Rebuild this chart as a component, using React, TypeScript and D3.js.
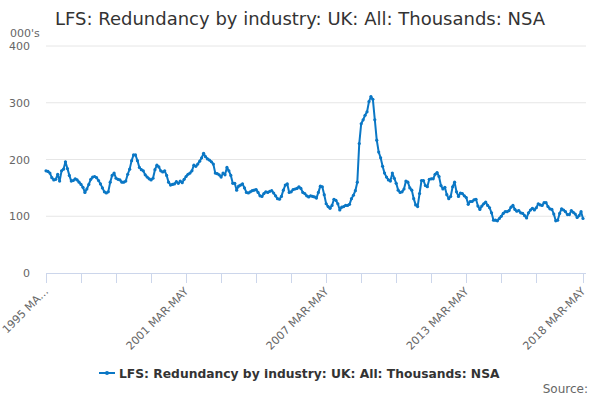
import * as d3 from "d3";

const startYear = 1995;
const periods = [
  "MAR-MAY", "APR-JUN", "MAY-JUL", "JUN-AUG", "JUL-SEP", "AUG-OCT",
  "SEP-NOV", "OCT-DEC", "NOV-JAN", "DEC-FEB", "JAN-MAR", "FEB-APR",
];

// thousands, rolling quarters 1995 MAR-MAY .. 2018 MAR-MAY
const redundancies = [
  180, 179, 176, 168, 164, 165, 174, 162, 180, 183,
  196, 184, 172, 162, 163, 166, 164, 160, 156, 151,
  142, 148, 156, 165, 169, 170, 168, 163, 157, 150,
  143, 141, 143, 160, 172, 176, 167, 165, 164, 160,
  160, 162, 174, 183, 198, 208, 208, 198, 186, 182,
  180, 173, 169, 166, 164, 167, 182, 190, 187, 180,
  178, 180, 172, 160, 155, 156, 157, 161, 158, 162,
  159, 165, 170, 174, 176, 180, 190, 188, 192, 197,
  203, 211, 205, 201, 199, 196, 192, 176, 175, 173,
  169, 176, 173, 186, 180, 172, 158, 158, 146, 153,
  155, 157, 150, 142, 141, 143, 145, 146, 147, 142,
  136, 135, 140, 143, 142, 144, 145, 141, 136, 131,
  130, 135, 146, 155, 157, 142, 143, 147, 148, 149,
  152, 149, 142, 140, 136, 134, 136, 135, 134, 132,
  142, 153, 152, 138, 122, 117, 114, 119, 130, 128,
  122, 111, 116, 117, 119, 119, 121, 131, 137, 145,
  160, 228, 263, 270, 278, 284, 302, 311, 306, 270,
  234, 213, 203, 188, 176, 169, 164, 162, 176, 167,
  158, 146, 142, 143, 148, 162, 160, 150, 146, 131,
  120, 117, 140, 163, 163, 154, 152, 165, 166, 166,
  174, 177, 170, 154, 148, 151, 138, 131, 135, 152,
  160, 143, 135, 141, 140, 136, 133, 121, 126, 126,
  129, 130, 118, 112, 118, 122, 125, 119, 115, 106,
  93, 93, 92, 96, 100, 105, 108, 108, 110, 116,
  119, 112, 109, 110, 106, 105, 101, 97, 106, 111,
  114, 111, 115, 122, 120, 119, 124, 124, 117, 113,
  112, 104, 92, 93, 105, 113, 111, 108, 103, 103,
  110, 107, 104, 98, 101, 108, 96,
];

const yTicks = [0, 100, 200, 300, 400];
const labelledTicks = [0, 72, 144, 216, 276];

const categories = redundancies.map((_, i) => {
  const p = periods[i % 12];
  const yr = startYear + Math.floor((i + 2) / 12);
  return `${yr} ${p}`;
});

const title = "LFS: Redundancy by industry: UK: All: Thousands: NSA";
const font = "'DejaVu Sans', sans-serif";
const blue = "#0a77c5";

export default function App() {
  const width = 600;
  const height = 400;
  const margin = { top: 46, right: 17, bottom: 127, left: 46 };

  const x = d3
    .scalePoint<string>()
    .domain(categories)
    .range([margin.left, width - margin.right]);
  const y = d3
    .scaleLinear()
    .domain([0, 400])
    .range([height - margin.bottom, margin.top]);

  const line = d3
    .line<number>()
    .x((_, i) => x(categories[i])!)
    .y((d) => y(d));

  const tickIdx = d3.range(0, categories.length - 18, 18).concat([categories.length - 1]);
  const baseY = y(0);

  return (
    <div style={{ position: "absolute", left: 0, top: 0 }}>
      <svg width={width} height={height} style={{ fontFamily: font, display: "block" }}>
        <rect width={width} height={height} fill="#fff" />
        <text x={300} y={25} textAnchor="middle" fontSize={18} fill="#333">
          {title}
        </text>
        <text x={10} y={37} fontSize={11} fill="#666">
          000's
        </text>

        {yTicks.map((t) => (
          <g key={t}>
            {t > 0 && (
              <line x1={margin.left} x2={586} y1={y(t)} y2={y(t)} stroke="#e6e6e6" />
            )}
            <text x={30} y={y(t) + 4} textAnchor="end" fontSize={11} fill="#666">
              {t}
            </text>
          </g>
        ))}

        <line x1={margin.left} x2={586} y1={baseY + 0.5} y2={baseY + 0.5} stroke="#ccd6eb" />
        {tickIdx.map((i) => (
          <line
            key={i}
            x1={Math.round(x(categories[i])!) + 0.5}
            x2={Math.round(x(categories[i])!) + 0.5}
            y1={baseY}
            y2={baseY + 10}
            stroke="#ccd6eb"
          />
        ))}
        {labelledTicks.map((i) => {
          const lx = x(categories[i])! + 3;
          const ly = baseY + 19;
          const label = i === 0 ? "1995 MA…" : categories[i];
          return (
            <text
              key={i}
              transform={`translate(${lx},${ly}) rotate(-45)`}
              textAnchor="end"
              fontSize={11}
              fill="#666"
            >
              {label}
            </text>
          );
        })}

        <path d={line(redundancies) ?? ""} fill="none" stroke={blue} strokeWidth={2} strokeLinejoin="round" />
        {redundancies.map((d, i) => (
          <circle key={i} cx={x(categories[i])!} cy={y(d)} r={1.6} fill={blue} />
        ))}

        <g transform="translate(99,373)">
          <line x1={0} x2={16} y1={0} y2={0} stroke={blue} strokeWidth={2} />
          <circle cx={8} cy={0} r={2} fill={blue} />
          <text x={20} y={5} fontSize={12.3} fontWeight="bold" fill="#333">
            {title}
          </text>
        </g>
        <text x={588} y={393} textAnchor="end" fontSize={12} fill="#666">
          Source:
        </text>
      </svg>
    </div>
  );
}
